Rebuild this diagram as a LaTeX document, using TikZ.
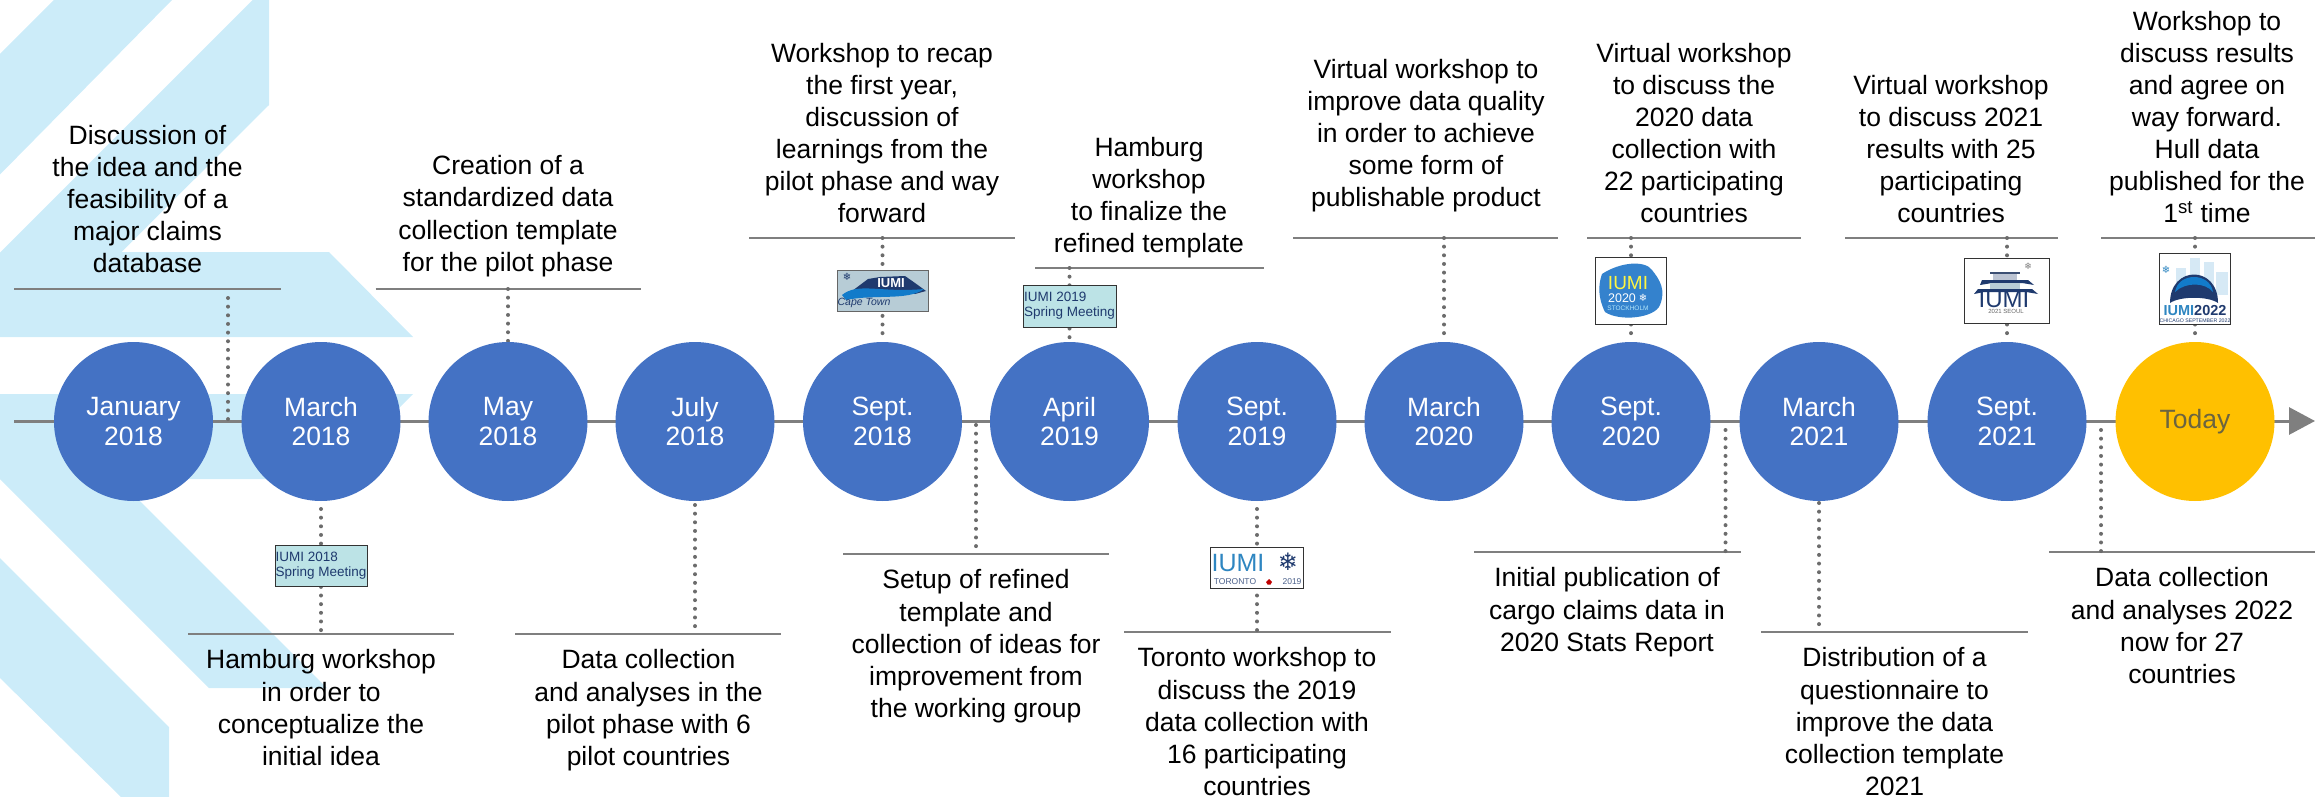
\documentclass[tikz,border=0pt]{standalone}
\usepackage{fontspec}
\setmainfont{Liberation Sans}
\newfontfamily\symfont{DejaVu Sans}
\usetikzlibrary{arrows.meta}
\definecolor{bgblue}{HTML}{CCECF9}
\definecolor{circblue}{HTML}{4472C4}
\definecolor{todayyel}{HTML}{FFC000}
\definecolor{rulegray}{HTML}{7F7F7F}
\definecolor{navylogo}{HTML}{1F3A6E}
\definecolor{springbg}{HTML}{BCE3E6}
\definecolor{capebg}{HTML}{B7CCD6}
\definecolor{iumiblue}{HTML}{2E86C1}
\definecolor{skyblue}{HTML}{D6E9F5}
\definecolor{todaytext}{HTML}{6B6440}
\tikzset{
  tnode/.style={align=center,inner sep=0pt,text=black,font=\fontsize{26.5}{32.1}\selectfont,execute at begin node=\strut,execute at end node=\strut},
  up/.style={tnode,anchor=south},
  dn/.style={tnode,anchor=north},
  datecirc/.style={circle,fill=circblue,minimum size=159pt,inner sep=0pt,align=center,text=white,font=\fontsize{26.5}{29.6}\selectfont},
  todaycirc/.style={datecirc,fill=todayyel,text=todaytext},
  textrule/.style={draw=rulegray,line width=2.4pt},
  axisline/.style={draw=rulegray,line width=3pt},
  dotline/.style={draw=rulegray!85!black,line width=4pt,line cap=round,dash pattern=on 0pt off 8.65pt},
  logo/.style={draw=black!80,line width=1pt,inner sep=0pt,align=left},
  logotext/.style={inner sep=0pt},
}
\begin{document}
\begin{tikzpicture}[x=1pt,y=-1pt]
\useasboundingbox (0,0) rectangle (2315,797);
% background chevrons
\fill[bgblue] (0,54)--(54,0)--(172,0)--(0,174.5)--cycle;
\fill[bgblue] (252.5,0)--(269,0)--(269,105)--(121.5,252)--(329,252)--(413,337)--(0,337)--(0,252.5)--cycle;
\fill[bgblue] (0,394)--(413,394)--(329,479)--(0,479)--cycle;
\fill[bgblue] (0,479)--(118,479)--(327,688)--(209,688)--cycle;
\fill[bgblue] (0,558)--(169,727)--(169,797)--(121,797)--(0,678)--cycle;

% axis
\coordinate (axstart) at (14,421);
\coordinate (axend) at (2315,421);
\draw[axisline,-{Triangle[length=26pt,width=27pt]}] (axstart) -- (axend);

% rule end points
\foreach \n/\a/\b/\y in {a/14/281/289,b/188/454/634,c/375.5/641/289,d/515/781/634,e/749/1015/238,f/843/1109/554,g/1035/1264/268,h/1124/1391/632,i/1293/1558/238,j/1474/1741/552,k/1587/1801/238,l/1761/2028/632,m/1845/2058/238,n/2049/2315/552,o/2101/2315/238}{
  \coordinate (\n L) at (\a,\y);
  \coordinate (\n R) at (\b,\y);
  \draw[textrule] (\n L) -- (\n R);
}
% dotted free points
\coordinate (d1t) at (228,298); \coordinate (d1b) at (228,421);
\coordinate (d2t) at (321,509); \coordinate (d2b) at (321,634);
\coordinate (d3t) at (508,289); \coordinate (d3b) at (508,342);
\coordinate (d4t) at (695,505); \coordinate (d4b) at (695,634);
\coordinate (d5t) at (882.5,238); \coordinate (d5b) at (882.5,341);
\coordinate (d6t) at (976,425); \coordinate (d6b) at (976,554);
\coordinate (d7t) at (1069.5,268); \coordinate (d7b) at (1069.5,342);
\coordinate (d8t) at (1257,509); \coordinate (d8b) at (1257,632);
\coordinate (d9t) at (1444,238); \coordinate (d9b) at (1444,341);
\coordinate (d10t) at (1631,238); \coordinate (d10b) at (1631,341);
\coordinate (d11t) at (1725.5,430); \coordinate (d11b) at (1725.5,552);
\coordinate (d12t) at (1819,503); \coordinate (d12b) at (1819,632);
\coordinate (d13t) at (2007,238); \coordinate (d13b) at (2007,341);
\coordinate (d14t) at (2101,430); \coordinate (d14b) at (2101,552);
\coordinate (d15t) at (2195,238); \coordinate (d15b) at (2195,341);
\foreach \i in {1,...,15}{\draw[dotline] (d\i t) -- (d\i b);}

% circles
\node[datecirc] (c1) at (133.5,421.5) {January\\2018};
\node[datecirc] (c2) at (321,421.5) {March\\2018};
\node[datecirc] (c3) at (508,421.5) {May\\2018};
\node[datecirc] (c4) at (695,421.5) {July\\2018};
\node[datecirc] (c5) at (882.5,421.5) {Sept.\\2018};
\node[datecirc] (c6) at (1069.5,421.5) {April\\2019};
\node[datecirc] (c7) at (1257,421.5) {Sept.\\2019};
\node[datecirc] (c8) at (1444,421.5) {March\\2020};
\node[datecirc] (c9) at (1631,421.5) {Sept.\\2020};
\node[datecirc] (c10) at (1819,421.5) {March\\2021};
\node[datecirc] (c11) at (2007,421.5) {Sept.\\2021};
\node[todaycirc] (c12) at (2195,421.5) {Today};

% texts
\node[up] (t1) at (147.5,282.4) {Discussion of\\the idea and the\\feasibility of a\\major claims\\database};
\node[up] (t2) at (508,281) {Creation of a\\standardized data\\collection template\\for the pilot phase};
\node[up] (t3) at (882,232.6) {Workshop to recap\\the first year,\\discussion of\\learnings from the\\pilot phase and way\\forward};
\node[up] (t4) at (1149,262.6) {Hamburg\\workshop\\to finalize the\\refined template};
\node[up] (t5) at (1426,216.6) {Virtual workshop to\\improve data quality\\in order to achieve\\some form of\\publishable product};
\node[up] (t6) at (1694,232.6) {Virtual workshop\\to discuss the\\2020 data\\collection with\\22 participating\\countries};
\node[up] (t7) at (1951,232.6) {Virtual workshop\\to discuss 2021\\results with 25\\participating\\countries};
\node[up] (t8) at (2207,232.6) {Workshop to\\discuss results\\and agree on\\way forward.\\Hull data\\published for the\\1\textsuperscript{st} time};

\node[dn] (b1) at (321,649.5) {Hamburg workshop\\in order to\\conceptualize the\\initial idea};
\node[dn] (b2) at (648.5,649.5) {Data collection\\and analyses in the\\pilot phase with 6\\pilot countries};
\node[dn] (b3) at (976,569.5) {Setup of refined\\template and\\collection of ideas for\\improvement from\\the working group};
\node[dn] (b4) at (1257,647.5) {Toronto workshop to\\discuss the 2019\\data collection with\\16 participating\\countries};
\node[dn] (b5) at (1607,567.5) {Initial publication of\\cargo claims data in\\2020 Stats Report};
\node[dn] (b6) at (1894.5,647.5) {Distribution of a\\questionnaire to\\improve the data\\collection template\\2021};
\node[dn] (b7) at (2182,567.5) {Data collection\\and analyses 2022\\now for 27\\countries};

% logos: spring meetings
\node[logo,fill=springbg,text=navylogo,minimum width=92pt,minimum height=41pt,font=\fontsize{13.5}{15}\selectfont] (l1) at (321,565.5) {IUMI 2018\\Spring Meeting};
\node[logo,fill=springbg,text=navylogo,minimum width=93pt,minimum height=42pt,font=\fontsize{13.5}{15}\selectfont] (l3) at (1069.5,306) {IUMI 2019\\Spring Meeting};
% Cape Town
\node[logo,draw=black!60,fill=capebg,minimum width=91pt,minimum height=41pt] (l2) at (882.5,290.5) {};
\fill[navylogo] (852,291)--(868,279)--(880,277)--(905,276)--(915,283)--(926,291)--(915,294)--(880,292)--cycle;
\fill[cyan!60!blue] (842,295) .. controls (858,282) and (880,293) .. (924,289) .. controls (908,301) and (875,294) .. (846,300) -- cycle;
\node[logotext,text=white,font=\bfseries\fontsize{13}{13}\selectfont] (l2t) at (891,283) {IUMI};
\node[logotext,text=navylogo,font=\itshape\fontsize{10.5}{11}\selectfont] (l2c) at (864,303) {Cape Town};
\node[logotext,text=navylogo,font=\symfont\fontsize{10}{10}\selectfont] (l2s) at (847,277) {❄};
% Toronto
\node[logo,fill=white,minimum width=93pt,minimum height=41pt] (l4) at (1256.5,567.5) {};
\node[logotext,text=iumiblue,font=\fontsize{25}{25}\selectfont] (l4t) at (1238,563) {IUMI};
\node[logotext,text=navylogo,font=\symfont\fontsize{24}{24}\selectfont] (l4s) at (1288,562) {❄};
\node[logotext,text=navylogo!80,font=\fontsize{8.5}{9}\selectfont] (l4c) at (1235,582) {TORONTO};
\node[logotext,text=navylogo!80,font=\fontsize{8.5}{9}\selectfont] (l4y) at (1292,582) {2019};
\fill[red!75!black] (1269,579)--(1272,582)--(1270.5,584.5)--(1267.5,584.5)--(1266,582)--cycle;
% Stockholm
\node[logo,fill=white,minimum width=71pt,minimum height=67pt] (l5) at (1631,290.5) {};
\fill[cyan!55!blue!85!white] (1602,274) .. controls (1620,262) and (1645,260) .. (1652,270) .. controls (1660,280) and (1666,290) .. (1660,305) .. controls (1655,318) and (1620,322) .. (1605,312) .. controls (1598,298) and (1598,285) .. (1602,274) -- cycle;
\node[logotext,text=yellow!75!white,font=\fontsize{19}{19}\selectfont] (l5t) at (1628,283) {IUMI};
\node[logotext,text=white,font=\fontsize{12.5}{12.5}\selectfont] (l5y) at (1622,298) {2020};
\node[logotext,text=white,font=\symfont\fontsize{10}{10}\selectfont] (l5s) at (1643,298) {❄};
\node[logotext,text=cyan!30!white,font=\fontsize{6.5}{7}\selectfont] (l5c) at (1628,308) {STOCKHOLM};
% Seoul
\node[logo,fill=white,minimum width=84.5pt,minimum height=65pt] (l6) at (2007.2,290.5) {};
\fill[navylogo!70!gray] (1990,272) rectangle (2020,274);
\fill[navylogo!30!white] (1993,274) rectangle (2017,281);
\fill[navylogo] (1982,280)--(2028,280)--(2034,285)--(2022,283)--(1992,283)--(1980,285)--cycle;
\fill[cyan!30!gray!50!white] (1990,283) rectangle (2020,289);
\fill[navylogo] (1978,289)--(2032,289)--(2038,294)--(2026,292)--(1984,292)--(1974,294)--cycle;
\node[logotext,text=navylogo,font=\fontsize{24}{24}\selectfont] (l6t) at (2004,299) {IUMI};
\node[logotext,text=black!60,font=\fontsize{6}{6}\selectfont] (l6y) at (2006,311) {2021 SEOUL};
\node[logotext,text=gray,font=\symfont\fontsize{9}{9}\selectfont] (l6s) at (2028,266) {❄};
% Chicago
\node[logo,fill=white,minimum width=71.5pt,minimum height=71pt] (l7) at (2195,289) {};
\fill[skyblue] (2176,268) rectangle (2186,288);
\fill[skyblue] (2190,258) rectangle (2200,280);
\fill[skyblue] (2204,262) rectangle (2214,285);
\fill[skyblue] (2216,272) rectangle (2228,295);
\fill[navylogo] (2170,303) .. controls (2170,265) and (2218,265) .. (2218,303) .. controls (2208,296) and (2180,296) .. (2170,303) -- cycle;
\fill[cyan!60!blue] (2175,292) .. controls (2178,272) and (2210,272) .. (2213,292) .. controls (2205,282) and (2185,282) .. (2175,292) -- cycle;
\node[logotext,text=iumiblue,font=\symfont\fontsize{10}{10}\selectfont] (l7s) at (2166,270) {❄};
\node[logotext,font=\bfseries\fontsize{14.5}{14.5}\selectfont] (l7t) at (2195,311) {\textcolor{iumiblue}{IUMI}\textcolor{navylogo}{2022}};
\node[logotext,text=navylogo,font=\fontsize{5.2}{6}\selectfont] (l7c) at (2195,321) {CHICAGO SEPTEMBER 2022};
\end{tikzpicture}
\end{document}
